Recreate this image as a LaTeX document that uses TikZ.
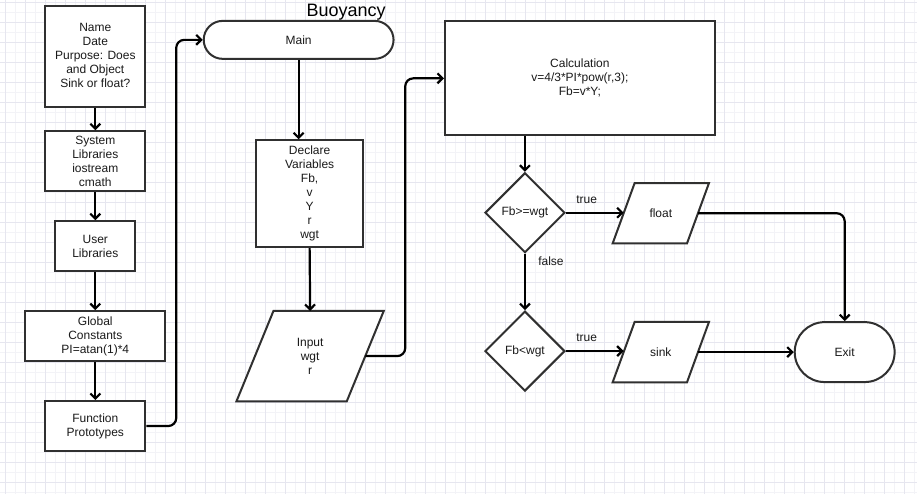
\documentclass[tikz,border=0pt]{standalone}
\usepackage{fontspec}
\setmainfont{Liberation Sans}
\usetikzlibrary{arrows.meta,shapes.geometric,calc}
\definecolor{gridmaj}{HTML}{E6E6EF}
\definecolor{gridmin}{HTML}{F3F3F7}
\definecolor{edge}{HTML}{303030}
\definecolor{txt}{HTML}{1A1A1A}
\pgfdeclarelayer{bg}
\pgfdeclarelayer{shp}
\pgfsetlayers{bg,shp,main}
\tikzset{
  box/.style={rectangle, draw=edge, line width=2pt, fill=white, inner sep=0pt, align=center,
    text=txt, font=\fontsize{12}{14}\selectfont},
  term/.style={box, rounded corners=#1},
  dec/.style={diamond, draw=edge, line width=2pt, fill=white, inner sep=0pt, align=center,
    text=txt, font=\fontsize{12}{14}\selectfont, minimum width=80pt, minimum height=80pt},
  paratext/.style={rectangle, inner sep=0pt, align=center, text=txt, font=\fontsize{12}{14}\selectfont},
  paraline/.style={draw=edge, line width=2pt, fill=white, line join=miter},
  conn/.style={draw=black, line width=2.2pt, rounded corners=8pt,
    -{Straight Barb[length=5pt,width=10pt]}},
  lbl/.style={text=txt, font=\fontsize{12}{14}\selectfont, inner sep=0pt},
  title/.style={text=black, font=\fontsize{18}{20}\selectfont, inner sep=0pt},
}
\newcommand\myparallel[2]{%
  \begin{pgfonlayer}{shp}
    \path[paraline] ($(#1.south west)+(-#2,0)$) -- ($(#1.south east)+(-#2,0)$)
      -- ($(#1.north east)+(#2,0)$) -- ($(#1.north west)+(#2,0)$) -- cycle;
  \end{pgfonlayer}}
\begin{document}
\begin{tikzpicture}[x=1pt,y=-1pt]
\begin{pgfonlayer}{bg}
  \fill[white] (0,0) rectangle (917,494);
  \foreach \x in {15,35,...,915} \draw[gridmin, line width=0.8pt] (\x,0) -- (\x,494);
  \foreach \y in {12,32,...,492} \draw[gridmin, line width=0.8pt] (0,\y) -- (917,\y);
  \foreach \x in {5,25,...,905} \draw[gridmaj, line width=0.8pt] (\x,0) -- (\x,494);
  \foreach \y in {2,22,...,482} \draw[gridmaj, line width=0.8pt] (0,\y) -- (917,\y);
\end{pgfonlayer}
\useasboundingbox (0,0) rectangle (917,494);

% title
\node[title, anchor=base] (ttl) at (346,16) {Buoyancy};

% left column
\node[box, minimum width=100pt, minimum height=101pt] (name) at (95,56.5)
  {\raisebox{4pt}{\begin{tabular}{@{}c@{}}Name\\Date\\Purpose: Does\\and Object\\Sink or float?\end{tabular}}};
\node[box, minimum width=100pt, minimum height=60pt] (syslib) at (95,161)
  {System\\Libraries\\iostream\\cmath};
\node[box, minimum width=80pt, minimum height=50pt] (usrlib) at (95,246)
  {User\\Libraries};
\node[box, minimum width=140pt, minimum height=50pt] (glob) at (95,336)
  {Global\\Constants\\PI=atan(1)*4};
\node[box, minimum width=100pt, minimum height=50pt] (func) at (95,426)
  {Function\\Prototypes};

% middle column
\node[term=19pt, minimum width=190pt, minimum height=38pt] (main) at (298.5,39.5) {Main};
\node[box, minimum width=107pt, minimum height=107pt] (decl) at (309.5,193.5)
  {Declare\\Variables\\Fb,\\v\\Y\\r\\wgt};
\node[paratext, minimum width=110pt, minimum height=90pt] (inp) at (310,356) {Input\\wgt\\r};
\myparallel{inp}{18.5}

% right part
\node[box, minimum width=270pt, minimum height=114pt] (calc) at (580,78)
  {Calculation\\v=4/3*PI*pow(r,3);\\Fb=v*Y;};
\node[dec] (d1) at (525,212.5) {Fb>=wgt};
\node[dec] (d2) at (525,351) {Fb<wgt};
\node[paratext, minimum width=74pt, minimum height=60pt] (flt) at (661,213) {float};
\myparallel{flt}{11}
\node[paratext, minimum width=74pt, minimum height=60pt] (snk) at (661,352) {sink};
\myparallel{snk}{11}
\node[term=30pt, minimum width=100pt, minimum height=60pt] (exit) at (845,352) {Exit};

% connectors
\draw[conn] (name.south) -- (syslib.north);
\draw[conn] (syslib.south) -- (usrlib.north);
\draw[conn] (usrlib.south) -- (glob.north);
\draw[conn] (glob.south) -- (func.north);
\draw[conn] (func.east) -- ++(30,0) |- (main.west);
\draw[conn] (main.south) -- (main.south |- decl.north);
\draw[conn] (decl.south) -- (inp.north);
\draw[conn] (inp.east) -- ++(40,0) |- (calc.west);
\draw[conn] (d1.north |- calc.south) -- (d1.north);
\draw[conn] (d1.east) -- node[lbl, pos=0.36, yshift=13pt] {true} (d1.east -| flt.west);
\draw[conn] (d1.south) -- node[lbl, pos=0.13, xshift=26pt] {false} (d2.north);
\draw[conn] (d2.east) -- node[lbl, pos=0.36, yshift=13pt] {true} (d2.east -| snk.west);
\draw[conn] (flt.east) -| (exit.north);
\draw[conn] (snk.east) -- (exit.west);
\end{tikzpicture}
\end{document}
